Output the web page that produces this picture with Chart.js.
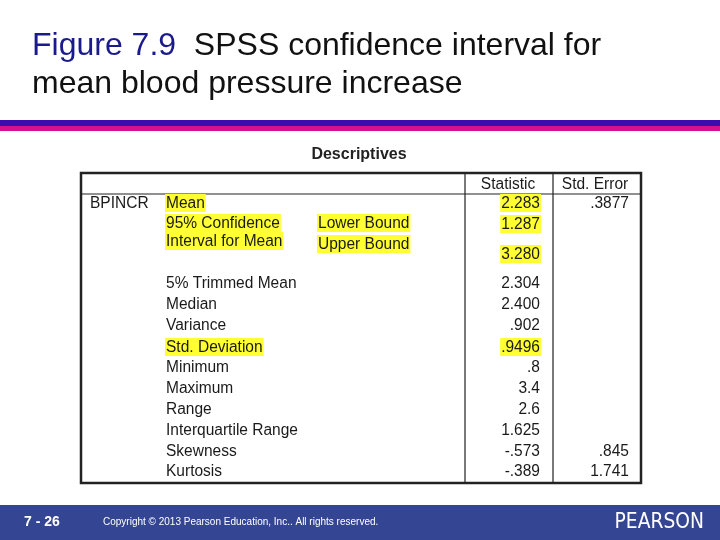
<!DOCTYPE html>
<html><head><meta charset="utf-8">
<script src="https://cdn.jsdelivr.net/npm/chart.js@4"></script>
<style>
html,body{margin:0;padding:0;background:#fff;width:720px;height:540px;overflow:hidden}
#wrap{position:absolute;left:0;top:0;width:720px;height:540px}
</style></head><body>
<div id="wrap"><canvas id="c" width="720" height="540"></canvas></div>
<script>
const groupLabels = ["BPINCR"];
const rowLabels = ["Mean","95% Confidence","Interval for Mean","","5% Trimmed Mean","Median","Variance","Std. Deviation","Minimum","Maximum","Range","Interquartile Range","Skewness","Kurtosis"];
const subLabels = ["","Lower Bound","Upper Bound","","","","","","","","","","",""];
const statistics = ["2.283","1.287","","3.280","2.304","2.400",".902",".9496",".8","3.4","2.6","1.625","-.573","-.389"];
const stdErrors = [".3877","","","","","","","","","","","",".845","1.741"];
const highlightLabel = [true,true,true,false,false,false,false,true,false,false,false,false,false,false];
const highlightSub = [false,true,true,false,false,false,false,false,false,false,false,false,false,false];
const highlightStat = [true,true,false,true,false,false,false,true,false,false,false,false,false,false];
const columnHeaders = ["Statistic","Std. Error"];

const rowY = [203,223,241,254,283,304,325,347,367,388,409,430,451,471];
const statY = [203,224,241,254,283,304,325,347,367,388,409,430,451,471];
const subY = [203,223,244,254];

const Y_HL = '#ffff33';
const tablePlugin = {
  id:'tbl',
  afterDraw(chart){
    const ctx = chart.ctx, X = chart.scales.x, Y = chart.scales.y;
    const px = v=>X.getPixelForValue(v), py = v=>Y.getPixelForValue(v);
    ctx.save();
    ctx.textBaseline='alphabetic';
    ctx.font='32px "Liberation Sans", Arial, sans-serif';
    ctx.fillStyle='#1a1a8c'; ctx.fillText('Figure 7.9',px(32),py(55));
    let w = ctx.measureText('Figure 7.9').width;
    ctx.fillStyle='#111'; ctx.fillText('  SPSS confidence interval for',px(32)+w,py(55));
    ctx.fillText('mean blood pressure increase',px(32),py(93));
    ctx.fillStyle='#3d0bb0'; ctx.fillRect(px(0),py(120),px(720)-px(0),py(126)-py(120));
    ctx.fillStyle='#d4128c'; ctx.fillRect(px(0),py(126),px(720)-px(0),py(131)-py(126));
    ctx.fillStyle='#344693'; ctx.fillRect(px(0),py(505),px(720)-px(0),py(540)-py(505));
    ctx.fillStyle='#fff'; ctx.font='bold 14px "Liberation Sans", Arial'; ctx.textBaseline='middle';
    ctx.fillText('7 - 26',px(24),py(522));
    ctx.font='10px "Liberation Sans", Arial';
    ctx.fillText('Copyright © 2013 Pearson Education, Inc.. All rights reserved.',px(103),py(522));
    ctx.font='22px "DejaVu Sans", sans-serif';
    ctx.textAlign='right';
    ctx.save(); ctx.translate(px(704),py(522)); ctx.scale(0.85,1); ctx.fillText('PEARSON',0,0); ctx.restore();
    ctx.textAlign='left';
    ctx.fillStyle='#222'; ctx.font='bold 16px "Liberation Sans", Arial'; ctx.textAlign='center';
    ctx.fillText('Descriptives',px(359),py(155));
    ctx.strokeStyle='#222';
    ctx.lineWidth=2.5; ctx.strokeRect(px(81),py(173),px(641)-px(81),py(483)-py(173));
    ctx.lineWidth=1.2;
    ctx.beginPath();
    ctx.moveTo(px(465),py(173)); ctx.lineTo(px(465),py(483));
    ctx.moveTo(px(553),py(173)); ctx.lineTo(px(553),py(483));
    ctx.moveTo(px(81),py(194)); ctx.lineTo(px(641),py(194));
    ctx.stroke();
    ctx.font='16px "Liberation Sans", Arial';
    const txt=(s,x,y,align,hl)=>{
      if(!s) return;
      ctx.save(); ctx.translate(px(x),py(y)); ctx.scale(0.97,1);
      const tw=ctx.measureText(s).width;
      let x0 = align==='right'? -tw : align==='center'? -tw/2 : 0;
      if(hl){ctx.fillStyle=Y_HL; ctx.fillRect(x0-1,-9,tw+2,18);}
      ctx.fillStyle='#1a1a1a'; ctx.textAlign='left'; ctx.fillText(s,x0,0.5);
      ctx.restore();
    };
    txt(columnHeaders[0],508,184,'center');
    txt(columnHeaders[1],595,184,'center');
    txt(groupLabels[0],90,203,'left');
    rowLabels.forEach((s,i)=>txt(s,166,rowY[i],'left',highlightLabel[i]));
    subLabels.forEach((s,i)=>txt(s,318,subY[i]||0,'left',highlightSub[i]));
    statistics.forEach((s,i)=>txt(s,540,statY[i],'right',highlightStat[i]));
    stdErrors.forEach((s,i)=>txt(s,629,statY[i],'right',false));
    ctx.restore();
  }
};
new Chart(document.getElementById('c'),{
  type:'scatter',
  data:{datasets:[{data:[]}]},
  options:{responsive:false,animation:false,
    layout:{padding:0},
    plugins:{legend:{display:false},tooltip:{enabled:false}},
    scales:{x:{type:'linear',min:0,max:720,display:false},
            y:{type:'linear',min:0,max:540,reverse:true,display:false}}},
  plugins:[tablePlugin]
});
</script></body></html>
